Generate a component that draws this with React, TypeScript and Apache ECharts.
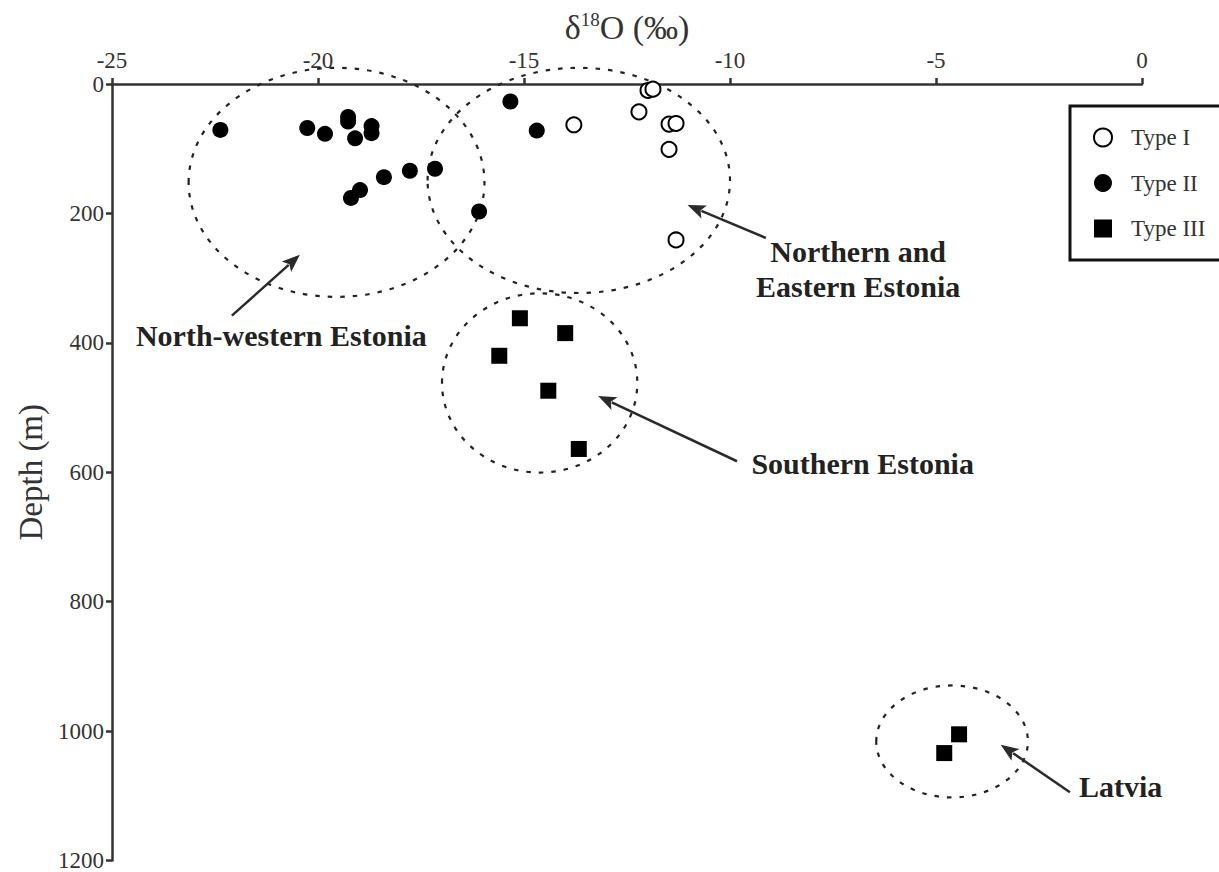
import React, { useEffect, useRef } from 'react';
import * as echarts from 'echarts';

const FONT = '"Liberation Serif", "Times New Roman", serif';
const INK = '#222';

// δ18O (‰) and depth (m) values
const typeIX = [-13.79, -12.21, -11.99, -11.87, -11.48, -11.31, -11.48, -11.31];
const typeIDepth = [63, 43, 10, 8, 62, 61, 101, 241];

const typeIIX = [-22.37, -20.26, -19.83, -19.27, -19.27, -19.1, -18.7, -18.7, -17.16, -17.77, -18.4, -18.98, -19.2, -16.09, -15.33, -14.69];
const typeIIDepth = [71, 68, 77, 51, 58, 84, 65, 76, 131, 134, 144, 164, 176, 197, 27, 72];

const typeIIIX = [-15.1, -14.0, -15.6, -14.41, -13.67, -4.44, -4.8];
const typeIIIDepth = [362, 385, 420, 474, 564, 1005, 1034];

// Group outlines (center x, center depth, radius x, radius depth) in data units
const groupNames = ['North-western Estonia', 'Northern and\nEastern Estonia', 'Southern Estonia', 'Latvia'];
const groupCX = [-19.55, -13.67, -14.62, -4.61];
const groupCY = [152, 149, 462, 1016];
const groupRX = [3.59, 3.67, 2.37, 1.84];
const groupRY = [177, 174, 138.5, 86.5];
// label centres
const labelX = [-20.89, -6.89, -6.78, -0.52];
const labelY = [388, 286, 586, 1086];
// arrows tail -> head
const arrowTailX = [-22.09, -9.13, -9.83, -1.75];
const arrowTailY = [358, 238, 583, 1094.5];
const arrowHeadX = [-20.44, -11.03, -13.2, -3.43];
const arrowHeadY = [264, 187, 482, 1021];

const zip = (xs: number[], ys: number[]) => xs.map((x, i) => [x, ys[i]]);

export default function App() {
  const ref = useRef<HTMLDivElement>(null);
  useEffect(() => {
    if (!ref.current) return;
    const chart = echarts.init(ref.current, undefined, { renderer: 'svg' });
    const axisCommon = {
      axisLine: { show: true, onZero: false, lineStyle: { color: '#333', width: 2.5 } },
      axisTick: { show: true, inside: false, length: 6, lineStyle: { color: '#333', width: 2.5 } },
      splitLine: { show: false },
      axisLabel: { fontFamily: FONT, fontSize: 23, color: '#333', formatter: (v: number) => String(v) },
    };
    chart.setOption({
      animation: false,
      backgroundColor: '#fff',
      grid: { left: 112, top: 84, width: 1030, height: 777, containLabel: false },
      xAxis: {
        type: 'value',
        position: 'top',
        min: -25,
        max: 0,
        interval: 5,
        ...axisCommon,
        axisLabel: { ...axisCommon.axisLabel, margin: 12 },
        name: '{a|δ}{s|18}{a|O (‰)}',
        nameLocation: 'middle',
        nameGap: 35,
        nameTextStyle: {
          fontFamily: FONT,
          fontSize: 34,
          color: '#333',
          rich: {
            a: { fontFamily: FONT, fontSize: 34, color: '#333' },
            s: { fontFamily: FONT, fontSize: 19, color: '#333', verticalAlign: 'top' },
          },
        },
      },
      yAxis: {
        type: 'value',
        inverse: true,
        min: 0,
        max: 1200,
        interval: 200,
        ...axisCommon,
        axisLabel: { ...axisCommon.axisLabel, margin: 8 },
        name: 'Depth (m)',
        nameLocation: 'middle',
        nameRotate: 90,
        nameGap: 64,
        nameTextStyle: { fontFamily: FONT, fontSize: 33, color: '#333' },
      },
      legend: {
        orient: 'vertical',
        left: 1070,
        top: 106,
        padding: [20, 40, 20, 23],
        itemGap: 22.5,
        itemWidth: 18,
        itemHeight: 18,
        borderColor: '#111',
        borderWidth: 3,
        backgroundColor: '#fff',
        textStyle: { fontFamily: FONT, fontSize: 23, color: '#333', padding: [0, 0, 0, 14] },
        data: ['Type I', 'Type II', 'Type III'],
      },
      series: [
        {
          name: 'Type I',
          type: 'scatter',
          symbol: 'circle',
          symbolSize: 15,
          itemStyle: { color: '#fff', borderColor: '#000', borderWidth: 2, opacity: 1 },
          data: zip(typeIX, typeIDepth),
          z: 5,
        },
        {
          name: 'Type II',
          type: 'scatter',
          symbol: 'circle',
          symbolSize: 16,
          itemStyle: { color: '#000', opacity: 1 },
          data: zip(typeIIX, typeIIDepth),
          z: 5,
        },
        {
          name: 'Type III',
          type: 'scatter',
          symbol: 'rect',
          symbolSize: 16,
          itemStyle: { color: '#000', opacity: 1 },
          data: zip(typeIIIX, typeIIIDepth),
          z: 5,
        },
      ],
    });

    const toPx = (x: number, y: number) =>
      chart.convertToPixel({ xAxisIndex: 0, yAxisIndex: 0 }, [x, y]) as number[];
    const graphics: any[] = [];
    groupCX.forEach((cx, i) => {
      const c = toPx(cx, groupCY[i]);
      const e = toPx(cx + groupRX[i], groupCY[i] + groupRY[i]);
      graphics.push({
        type: 'ellipse',
        silent: true,
        z: 1,
        shape: { cx: c[0], cy: c[1], rx: Math.abs(e[0] - c[0]), ry: Math.abs(e[1] - c[1]) },
        style: { fill: 'none', stroke: '#222', lineWidth: 2.2, lineDash: [4.5, 8] },
      });
      const t = toPx(arrowTailX[i], arrowTailY[i]);
      const h = toPx(arrowHeadX[i], arrowHeadY[i]);
      const dx = h[0] - t[0];
      const dy = h[1] - t[1];
      const len = Math.sqrt(dx * dx + dy * dy);
      const ux = dx / len;
      const uy = dy / len;
      const hl = 18;
      const hw = 7;
      const bx = h[0] - ux * hl;
      const by = h[1] - uy * hl;
      graphics.push({
        type: 'line',
        silent: true,
        z: 2,
        shape: { x1: t[0], y1: t[1], x2: bx + ux * 3, y2: by + uy * 3 },
        style: { stroke: '#2a2a2a', lineWidth: 2.5 },
      });
      graphics.push({
        type: 'polygon',
        silent: true,
        z: 2,
        shape: {
          points: [
            [h[0], h[1]],
            [bx - uy * hw, by + ux * hw],
            [bx + ux * 4, by + uy * 4],
            [bx + uy * hw, by - ux * hw],
          ],
        },
        style: { fill: '#2a2a2a' },
      });
      const l = toPx(labelX[i], labelY[i]);
      graphics.push({
        type: 'text',
        silent: true,
        z: 3,
        x: l[0],
        y: l[1],
        style: {
          text: groupNames[i],
          fontFamily: FONT,
          fontSize: 30,
          fontWeight: 'bold',
          fill: INK,
          align: 'center',
          verticalAlign: 'middle',
          lineHeight: 35,
        },
      });
    });
    chart.setOption({ graphic: graphics });

    return () => chart.dispose();
  }, []);
  return (
    <div
      ref={ref}
      style={{ position: 'absolute', left: 0, top: 0, width: 1219, height: 872 }}
    />
  );
}
